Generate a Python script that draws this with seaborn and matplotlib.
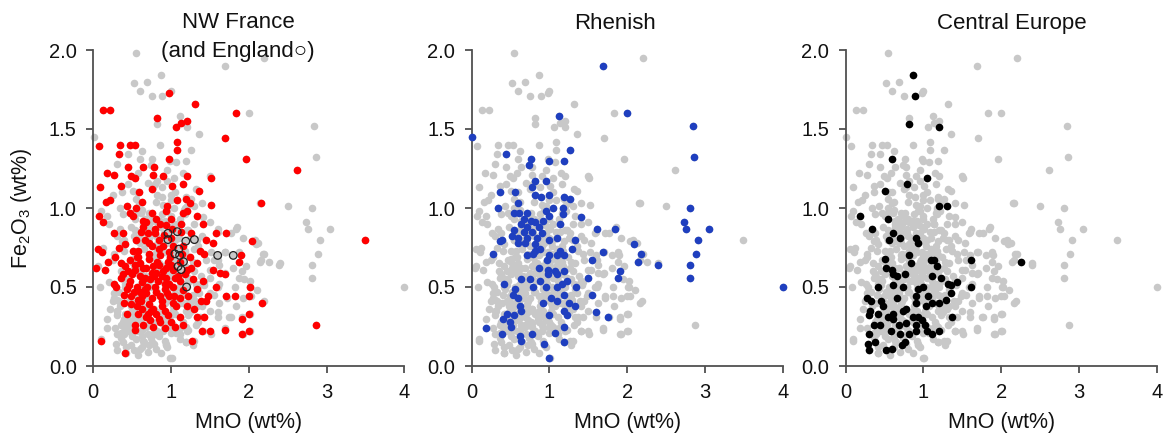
import numpy as np
import matplotlib
matplotlib.use("Agg")
import matplotlib.pyplot as plt
import seaborn as sns

# MnO vs Fe2O3 (wt%)

# NW France (red)
nw_mno = [0.98, 1.31, 0.13, 0.22, 1.83, 0.82, 1.20, 1.13, 1.06, 1.70,
          1.08, 1.08, 0.07, 0.34, 0.47, 0.53, 0.33, 0.98, 1.96, 2.62,
          0.44, 0.64, 0.78, 0.17, 0.27, 0.49, 0.53, 0.77, 0.90, 1.20,
          1.51, 0.09, 0.36, 0.59, 0.75, 1.01, 1.16, 1.36, 0.16, 0.21,
          0.43, 0.62, 0.95, 1.08, 1.19, 1.24, 1.52, 2.16, 0.07, 0.13,
          0.47, 0.51, 0.76, 0.93, 1.16, 1.21, 0.68, 0.86, 0.94, 1.33,
          1.41, 0.26, 0.38, 0.61, 0.79, 1.01, 1.13, 1.26, 1.58, 1.71,
          1.45, 1.54, 2.04, 3.49, 0.41, 0.51, 0.66, 0.75, 0.90, 1.03,
          1.16, 1.37, 1.43, 0.06, 0.11, 0.28, 0.19, 0.47, 0.58, 0.71,
          0.86, 0.96, 1.24, 1.33, 1.90, 1.88, 0.04, 0.15, 0.41, 0.53,
          0.64, 0.77, 0.90, 1.03, 1.20, 1.54, 1.63, 1.69, 0.36, 0.47,
          0.60, 0.73, 0.83, 0.94, 1.11, 1.28, 1.41, 0.26, 0.29, 0.43,
          0.56, 0.66, 0.79, 0.92, 1.03, 1.33, 1.58, 2.02, 0.49, 0.62,
          0.75, 0.86, 0.98, 1.11, 1.22, 1.48, 1.71, 1.82, 2.00, 0.39,
          0.56, 0.71, 0.88, 1.07, 1.20, 1.39, 1.45, 2.17, 0.43, 0.58,
          0.68, 0.81, 0.96, 1.11, 1.33, 1.43, 1.91, 2.00, 0.53, 0.64,
          0.77, 0.92, 1.05, 1.16, 0.53, 1.40, 1.50, 1.69, 1.91, 2.00,
          2.87, 1.27, 0.10, 0.41,
          0.55, 0.70, 0.85, 1.00, 0.45, 0.60, 0.75, 0.85, 1.00, 1.12,
          0.52, 0.68, 0.80, 0.95, 1.15, 0.62, 0.77, 0.92, 1.02, 0.66,
          0.88, 1.05, 0.56, 0.98, 0.72, 0.82, 0.68, 0.92, 1.18, 0.40,
          0.58, 0.73, 0.86, 1.00, 0.64, 0.80, 1.00, 0.55, 0.35, 0.33,
          0.50, 0.63, 0.78, 0.94, 1.09, 0.57, 0.71, 0.84, 0.99, 1.14,
          0.48, 0.61, 0.74, 0.89, 1.04, 0.54, 0.69, 0.81, 0.97, 1.26,
          0.46, 0.64, 0.79, 0.91, 1.13, 0.70, 0.85, 1.30, 0.38, 0.60]
nw_fe2o3 = [1.73, 1.66, 1.62, 1.62, 1.60, 1.57, 1.55, 1.54, 1.51, 1.44,
            1.42, 1.37, 1.39, 1.40, 1.40, 1.40, 1.34, 1.31, 1.31, 1.24,
            1.26, 1.26, 1.26, 1.22, 1.21, 1.20, 1.19, 1.21, 1.20, 1.20,
            1.19, 1.13, 1.14, 1.10, 1.12, 1.14, 1.15, 1.11, 1.04, 1.05,
            1.01, 1.04, 1.01, 1.05, 1.06, 1.03, 1.02, 1.03, 0.95, 0.91,
            0.97, 0.95, 0.97, 0.98, 0.97, 0.98, 0.91, 0.90, 0.89, 0.95,
            0.90, 0.84, 0.84, 0.85, 0.84, 0.87, 0.85, 0.84, 0.84, 0.84,
            0.80, 0.78, 0.79, 0.80, 0.77, 0.73, 0.80, 0.76, 0.76, 0.76,
            0.76, 0.73, 0.71, 0.74, 0.72, 0.69, 0.66, 0.67, 0.69, 0.68,
            0.70, 0.66, 0.69, 0.65, 0.70, 0.66, 0.62, 0.61, 0.63, 0.61,
            0.62, 0.63, 0.60, 0.61, 0.61, 0.61, 0.59, 0.58, 0.56, 0.54,
            0.57, 0.55, 0.54, 0.56, 0.54, 0.55, 0.54, 0.52, 0.50, 0.49,
            0.50, 0.49, 0.50, 0.49, 0.50, 0.49, 0.50, 0.50, 0.44, 0.44,
            0.43, 0.44, 0.44, 0.43, 0.44, 0.44, 0.44, 0.44, 0.44, 0.40,
            0.38, 0.39, 0.38, 0.38, 0.38, 0.41, 0.41, 0.40, 0.33, 0.33,
            0.31, 0.33, 0.32, 0.31, 0.31, 0.31, 0.30, 0.33, 0.26, 0.26,
            0.25, 0.24, 0.25, 0.26, 0.23, 0.22, 0.22, 0.23, 0.20, 0.22,
            0.26, 0.16, 0.16, 0.08,
            0.80, 0.84, 0.80, 0.81, 0.60, 0.65, 0.59, 0.64, 0.64, 0.66,
            0.47, 0.46, 0.47, 0.46, 0.48, 0.36, 0.36, 0.35, 0.40, 0.56,
            0.57, 0.56, 0.69, 0.72, 0.71, 0.66, 0.62, 0.52, 0.58, 0.45,
            0.42, 0.29, 0.28, 0.28, 0.92, 0.93, 0.93, 1.00, 0.65, 0.75,
            0.58, 0.53, 0.57, 0.62, 0.57, 0.73, 0.78, 0.74, 0.69, 0.71,
            0.39, 0.41, 0.35, 0.41, 0.44, 0.64, 0.50, 0.59, 0.52, 0.62,
            0.51, 0.88, 0.87, 0.83, 0.90, 0.33, 0.30, 0.36, 0.58, 0.47]

# England (open circles, first panel)
en_mno = [0.96, 0.96, 1.08, 1.19, 1.30, 1.10, 1.05, 1.11, 1.16, 1.09,
          1.13, 1.60, 1.80, 1.20]
en_fe2o3 = [0.84, 0.80, 0.85, 0.79, 0.80, 0.74, 0.71, 0.70, 0.66, 0.63,
            0.61, 0.70, 0.70, 0.50]

# Rhenish (blue)
rh_mno = [1.69, 2.00, 1.12, 2.84, 0.01, 2.86, 1.26, 0.44, 0.76, 0.74,
          0.99, 1.19, 0.82, 0.95, 0.37, 0.56, 0.77, 0.82, 0.89, 1.00,
          1.19, 1.26, 0.34, 0.59, 0.95, 1.04, 1.18, 2.81, 0.55, 0.61,
          0.71, 1.00, 1.18, 1.41, 0.67, 0.76, 0.82, 0.86, 0.92, 0.64,
          0.71, 1.13, 2.73, 2.76, 3.05, 1.61, 1.84, 0.54, 0.67, 0.77,
          0.91, 0.52, 0.59, 0.71, 0.84, 0.39, 0.37, 0.60, 0.69, 0.82,
          1.00, 1.10, 1.33, 2.91, 2.09, 0.88, 0.82, 1.13, 1.29, 1.69,
          2.18, 2.89, 0.27, 0.71, 0.79, 0.99, 1.10, 1.19, 0.97, 1.55,
          2.14, 2.39, 2.81, 0.87, 0.98, 1.07, 1.19, 1.91, 0.98, 1.10,
          1.23, 1.50, 1.88, 2.81, 0.64, 0.75, 0.88, 0.41, 0.79, 0.95,
          1.10, 1.16, 1.34, 4.00, 0.56, 0.53, 0.60, 1.02, 1.10, 1.19,
          1.55, 0.62, 0.92, 1.25, 1.33, 0.64, 0.45, 0.54, 0.40, 1.19,
          1.22, 1.00, 1.60, 1.75, 0.49, 0.51, 1.19, 0.18, 0.39, 0.62,
          0.77, 1.07, 0.64, 1.19, 0.93, 0.99]
rh_fe2o3 = [1.90, 1.60, 1.58, 1.52, 1.45, 1.32, 1.37, 1.34, 1.31, 1.27,
            1.30, 1.30, 1.17, 1.17, 1.10, 1.10, 1.13, 1.08, 1.07, 1.08,
            1.07, 1.06, 1.00, 1.03, 0.98, 1.00, 1.00, 1.00, 0.97, 0.97,
            0.97, 0.95, 0.96, 0.94, 0.93, 0.92, 0.91, 0.88, 0.92, 0.90,
            0.88, 0.90, 0.91, 0.87, 0.87, 0.87, 0.87, 0.86, 0.85, 0.85,
            0.84, 0.82, 0.81, 0.81, 0.81, 0.80, 0.79, 0.78, 0.78, 0.77,
            0.80, 0.81, 0.80, 0.80, 0.77, 0.74, 0.73, 0.73, 0.74, 0.72,
            0.71, 0.71, 0.71, 0.70, 0.71, 0.70, 0.70, 0.70, 0.67, 0.67,
            0.66, 0.64, 0.64, 0.62, 0.61, 0.60, 0.60, 0.60, 0.58, 0.58,
            0.54, 0.56, 0.56, 0.56, 0.55, 0.55, 0.54, 0.52, 0.50, 0.50,
            0.50, 0.52, 0.50, 0.50, 0.49, 0.45, 0.43, 0.43, 0.41, 0.45,
            0.45, 0.38, 0.40, 0.40, 0.38, 0.35, 0.33, 0.32, 0.30, 0.35,
            0.32, 0.32, 0.34, 0.31, 0.28, 0.25, 0.25, 0.24, 0.20, 0.19,
            0.20, 0.21, 0.16, 0.15, 0.14, 0.05]

# Central Europe (black)
ce_mno = [0.87, 0.89, 0.82, 1.20, 0.60, 1.04, 0.79, 0.51, 1.20, 1.30,
          0.18, 0.54, 0.34, 0.61, 0.56, 0.70, 0.90, 0.93, 0.81, 0.84,
          0.51, 0.52, 1.10, 1.13, 1.18, 1.61, 2.26, 0.60, 0.61, 0.66,
          0.76, 1.11, 1.22, 1.32, 1.43, 1.36, 0.41, 0.61, 0.74, 0.93,
          1.00, 1.61, 1.06, 1.36, 0.27, 0.33, 0.46, 0.66, 0.90, 0.91,
          1.11, 1.03, 1.20, 1.29, 0.31, 0.30, 0.41, 0.61, 0.54, 0.61,
          0.74, 0.78, 0.86, 0.93, 0.98, 1.37, 0.36, 0.44, 0.68, 0.78,
          0.91, 1.02, 0.58, 0.90, 0.70, 0.81, 1.04, 1.11, 1.20, 0.30,
          0.29, 0.38, 0.30, 0.52, 0.60, 0.72, 0.76, 0.48]
ce_fe2o3 = [1.84, 1.71, 1.53, 1.51, 1.31, 1.19, 1.15, 1.11, 1.01, 1.01,
            0.95, 0.93, 0.87, 0.84, 0.80, 0.81, 0.81, 0.78, 0.70, 0.65,
            0.68, 0.62, 0.67, 0.67, 0.63, 0.67, 0.66, 0.61, 0.58, 0.57,
            0.58, 0.57, 0.56, 0.52, 0.53, 0.51, 0.50, 0.51, 0.50, 0.49,
            0.50, 0.50, 0.44, 0.46, 0.43, 0.41, 0.41, 0.43, 0.44, 0.40,
            0.40, 0.38, 0.40, 0.42, 0.35, 0.32, 0.33, 0.33, 0.31, 0.30,
            0.35, 0.36, 0.31, 0.31, 0.29, 0.31, 0.26, 0.26, 0.26, 0.27,
            0.26, 0.26, 0.22, 0.22, 0.20, 0.20, 0.22, 0.20, 0.22, 0.20,
            0.14, 0.15, 0.10, 0.10, 0.11, 0.13, 0.15, 0.38]

# other samples (grey only)
ot_mno = [0.55, 2.20, 0.52, 0.69, 0.60, 0.75, 1.00, 1.36, 0.62, 0.86,
          1.07, 0.30, 0.58, 0.95, 1.15, 1.50, 0.44, 0.70, 0.88, 1.05,
          1.32, 0.25, 0.55, 0.80, 1.00, 1.40, 2.15, 2.50, 0.10, 0.38,
          0.62, 0.88, 1.12, 1.30, 1.50, 0.20, 0.48, 0.72, 0.98, 1.20,
          1.60, 1.85, 0.30, 0.55, 0.80, 1.05, 1.25, 1.40, 1.77, 1.92,
          2.08, 2.12, 0.12, 0.40, 0.65, 0.92, 1.18, 1.35, 1.52, 1.70,
          1.88, 2.20, 0.25, 0.50, 0.77, 1.02, 1.28, 1.45, 1.62, 1.80,
          1.96, 2.16, 2.40, 0.06, 0.35, 0.58, 0.84, 1.08, 1.30, 1.50,
          1.70, 1.94, 2.02, 0.20, 0.45, 0.70, 0.95, 1.20, 1.42, 1.62,
          1.82, 2.01, 2.10, 0.08, 0.33, 0.58, 0.82, 1.05, 1.28, 1.50,
          1.72, 1.92, 2.03, 2.19, 0.25, 0.50, 0.72, 0.95, 1.15, 1.40,
          1.62, 1.83, 0.30, 0.48, 0.66, 0.85, 1.02, 1.25, 1.50, 1.77,
          1.91, 2.01, 0.18, 0.38, 0.57, 0.76, 0.95, 1.15, 1.35, 1.60,
          0.28, 0.45, 0.62, 0.82, 1.00, 1.22, 1.41, 1.51, 1.69, 1.92,
          2.01, 0.36, 0.55, 0.74, 0.92, 1.12, 1.30, 0.10, 0.42, 0.48,
          0.62, 0.80, 0.93, 1.19, 1.28, 0.42, 0.57, 0.87, 1.01, 0.70,
          0.34, 0.45, 0.30, 0.36, 0.50, 0.22, 0.27, 0.40, 1.05, 1.12,
          0.85, 0.95, 1.25, 1.32, 0.65, 0.78, 0.68, 0.90, 1.08, 0.40,
          0.75, 0.90, 1.05, 1.17, 1.22, 0.83, 0.98, 1.10, 0.60, 0.73,
          0.96, 1.14, 1.38, 0.52, 0.68, 0.88, 1.00, 1.27, 0.64, 0.86]
ot_fe2o3 = [1.98, 1.95, 1.79, 1.80, 1.74, 1.71, 1.74, 1.47, 1.36, 1.40,
            1.29, 1.28, 1.22, 1.24, 1.22, 1.20, 1.15, 1.16, 1.13, 1.10,
            1.12, 1.08, 1.06, 1.04, 1.05, 1.03, 1.03, 1.01, 0.98, 0.96,
            0.99, 0.96, 0.93, 0.90, 0.91, 0.90, 0.88, 0.90, 0.88, 0.86,
            0.85, 0.88, 0.82, 0.80, 0.82, 0.80, 0.81, 0.82, 0.84, 0.81,
            0.80, 0.78, 0.75, 0.73, 0.74, 0.72, 0.73, 0.76, 0.72, 0.72,
            0.72, 0.71, 0.67, 0.66, 0.69, 0.67, 0.66, 0.67, 0.64, 0.62,
            0.63, 0.67, 0.65, 0.63, 0.60, 0.59, 0.61, 0.58, 0.60, 0.61,
            0.59, 0.55, 0.54, 0.53, 0.55, 0.52, 0.54, 0.52, 0.51, 0.52,
            0.50, 0.50, 0.48, 0.50, 0.47, 0.46, 0.47, 0.46, 0.45, 0.46,
            0.43, 0.43, 0.44, 0.41, 0.41, 0.40, 0.41, 0.42, 0.40, 0.38,
            0.40, 0.38, 0.35, 0.34, 0.36, 0.34, 0.35, 0.34, 0.35, 0.31,
            0.31, 0.33, 0.30, 0.28, 0.29, 0.28, 0.29, 0.28, 0.28, 0.31,
            0.24, 0.22, 0.23, 0.22, 0.21, 0.23, 0.22, 0.20, 0.24, 0.20,
            0.22, 0.18, 0.17, 0.18, 0.16, 0.17, 0.16, 0.17, 0.12, 0.13,
            0.12, 0.11, 0.13, 0.15, 0.13, 0.08, 0.07, 0.08, 0.05, 0.09,
            0.38, 0.30, 0.42, 0.21, 0.19, 0.36, 0.46, 0.25, 0.33, 0.24,
            0.19, 0.12, 0.37, 0.26, 0.15, 0.14, 0.52, 0.63, 0.44, 0.56,
            0.95, 1.02, 0.90, 0.99, 0.86, 0.72, 0.79, 0.69, 0.62, 0.57,
            0.55, 0.47, 0.57, 0.35, 0.25, 0.33, 0.25, 0.44, 0.49, 0.92]

panel_titles = ["NW France\n(and England\u25cb)", "Rhenish", "Central Europe"]
title_x = [0.465, 0.46, 0.535]
x_ticks = [0, 1, 2, 3, 4]
y_ticks = [0.0, 0.5, 1.0, 1.5, 2.0]

grey = "#c8c8c8"
group_colors = ["#ff0000", "#1f3fbf", "#000000"]
groups = [(nw_mno, nw_fe2o3), (rh_mno, rh_fe2o3), (ce_mno, ce_fe2o3)]

all_mno = nw_mno + en_mno + rh_mno + ce_mno + ot_mno
all_fe2o3 = nw_fe2o3 + en_fe2o3 + rh_fe2o3 + ce_fe2o3 + ot_fe2o3

sns.set_style("ticks")
plt.rcParams["font.family"] = ["Liberation Sans", "DejaVu Sans"]
plt.rcParams["mathtext.default"] = "regular"

fig = plt.figure(figsize=(11.71, 4.41), dpi=100)
lefts = [93.3, 471.7, 845.7]
axes = [fig.add_axes([l / 1171, 75 / 441, 311 / 1171, 316 / 441]) for l in lefts]

dot = 30
for i, ax in enumerate(axes):
    sns.scatterplot(x=all_mno, y=all_fe2o3, ax=ax, color=grey, s=dot,
                    linewidth=0, clip_on=False, zorder=2)
    gx, gy = groups[i]
    sns.scatterplot(x=gx, y=gy, ax=ax, color=group_colors[i], s=dot,
                    linewidth=0, clip_on=False, zorder=3)
    if i == 0:
        sns.scatterplot(x=en_mno, y=en_fe2o3, ax=ax, s=dot, facecolor="none",
                        edgecolor="#222222", linewidth=0.9, clip_on=False, zorder=4)

    ax.set_xlim(0, 4)
    ax.set_ylim(0, 2)
    ax.set_xticks(x_ticks)
    ax.set_yticks(y_ticks)
    ax.set_yticklabels([f"{v:.1f}" for v in y_ticks])
    sns.despine(ax=ax)
    for sp in ["left", "bottom"]:
        ax.spines[sp].set_color("#505050")
        ax.spines[sp].set_linewidth(1.3)
    ax.tick_params(direction="out", length=5, width=1.3, color="#505050",
                   labelsize=14.5, labelcolor="#111111", pad=7)
    ax.set_xlabel("MnO (wt%)", fontsize=15.5, color="#111111")
    ax.xaxis.set_label_coords(0.5, -0.145)
    if i == 0:
        ax.text(title_x[i], 1.12, panel_titles[i], transform=ax.transAxes,
                ha="center", va="top", fontsize=16, linespacing=1.5,
                color="#111111")
    else:
        ax.text(title_x[i], 1.085, panel_titles[i], transform=ax.transAxes,
                ha="center", va="center", fontsize=16, color="#111111")

axes[0].set_ylabel("Fe$_2$O$_3$ (wt%)", fontsize=15.5, color="#111111")
axes[0].yaxis.set_label_coords(-0.19, 0.5)

fig.savefig("out.png", dpi=100)
